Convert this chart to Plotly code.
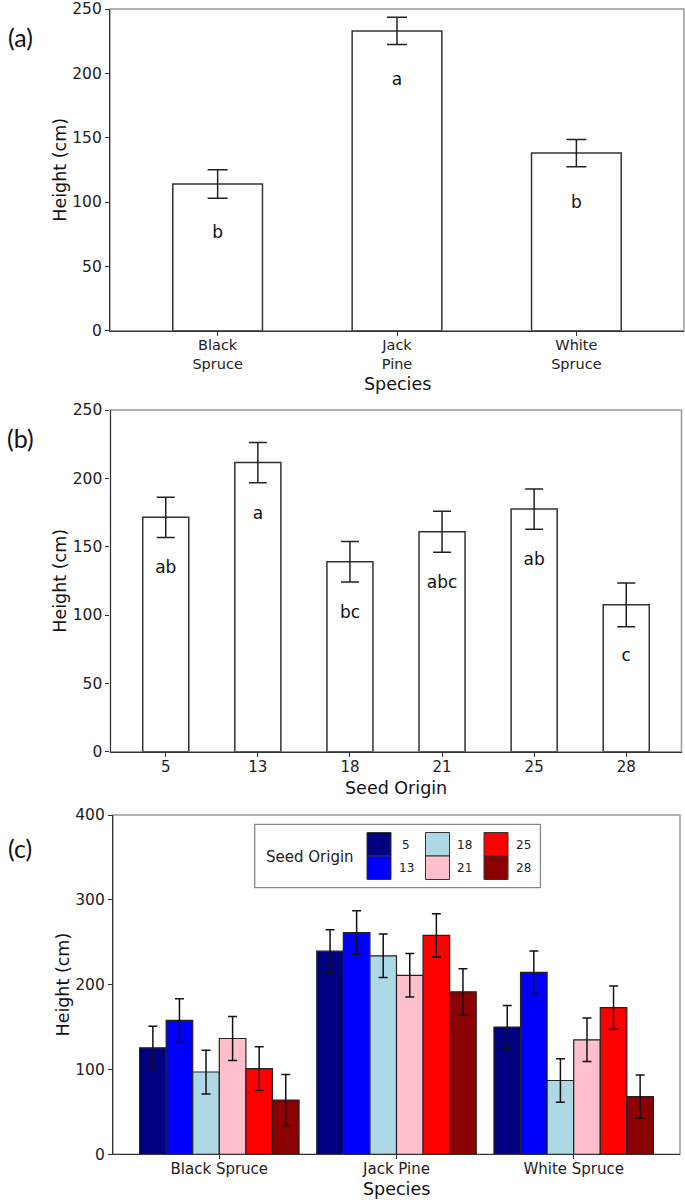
import plotly.graph_objects as go

# ---- data ----
species = ["Black Spruce", "Jack Pine", "White Spruce"]
species_ticks = ["Black<br>Spruce", "Jack<br>Pine", "White<br>Spruce"]

# (a) height by species
a_height = [114, 233, 138]
a_se = [11, 10.5, 10.5]
a_letters = ["b", "a", "b"]

# (b) height by seed origin
origins = ["5", "13", "18", "21", "25", "28"]
b_height = [171.5, 211.5, 139, 161, 177.5, 107.5]
b_se = [14.7, 14.7, 14.8, 15, 14.7, 16]
b_letters = ["ab", "a", "bc", "abc", "ab", "c"]

# (c) species x seed origin, one list per origin (Black Spruce, Jack Pine, White Spruce)
c_height = [
    [125.5, 239.5, 150],
    [158, 261.5, 214.5],
    [97, 234, 87],
    [136.5, 211, 135],
    [101, 258, 173],
    [64, 191.5, 68],
]
c_se = [
    [25.5, 25.3, 25.3],
    [25.3, 25.7, 25.3],
    [25.8, 25.7, 25.6],
    [25.9, 25.7, 25.7],
    [25.7, 25.5, 25.5],
    [30.2, 27.2, 25.5],
]
origin_colors = ["#000080", "#0000FF", "#ADD8E6", "#FFC0CB", "#FF0000", "#8B0000"]

W, H = 685, 1200
FONT = "DejaVu Sans"


def fx(px):
    return px / W


def fy(py):
    return 1 - py / H


fig = go.Figure()

# (a)
fig.add_trace(go.Bar(
    x=species, y=a_height, width=0.5, xaxis="x", yaxis="y",
    marker=dict(color="white", line=dict(color="#333", width=1.5)),
    error_y=dict(type="data", array=a_se, color="#222", thickness=1.5, width=10),
    showlegend=False,
))
fig.add_trace(go.Scatter(
    x=species, y=[h - 39 for h in a_height], text=a_letters, mode="text",
    textfont=dict(family=FONT, size=17, color="#111"), xaxis="x", yaxis="y",
    showlegend=False,
))

# (b)
fig.add_trace(go.Bar(
    x=origins, y=b_height, width=0.5, xaxis="x2", yaxis="y2",
    marker=dict(color="white", line=dict(color="#333", width=1.5)),
    error_y=dict(type="data", array=b_se, color="#222", thickness=1.5, width=9),
    showlegend=False,
))
fig.add_trace(go.Scatter(
    x=origins, y=[h - 38 for h in b_height], text=b_letters, mode="text",
    textfont=dict(family=FONT, size=17, color="#111"), xaxis="x2", yaxis="y2",
    showlegend=False,
))

# (c)
for origin, heights, errs, col in zip(origins, c_height, c_se, origin_colors):
    fig.add_trace(go.Bar(
        x=species, y=heights, name=origin, xaxis="x3", yaxis="y3",
        marker=dict(color=col, line=dict(color="#222", width=1.2)),
        error_y=dict(type="data", array=errs, color="#111", thickness=1.5, width=4.5),
        showlegend=False,
    ))

axis_style = dict(
    showline=True, linecolor="#333", linewidth=1.3,
    ticks="outside", ticklen=4, tickwidth=1.2, tickcolor="#333",
    showgrid=False, zeroline=False, automargin=False, ticklabeloverflow="allow",
    tickfont=dict(family=FONT, size=15.5, color="#222"),
)
x_style = dict(axis_style, ticklabelstandoff=-3,
               tickfont=dict(family=FONT, size=15, color="#222"))
ytitle_font = dict(family=FONT, size=17.5, color="#111")

fig.update_layout(
    width=W, height=H,
    margin=dict(l=0, r=0, t=0, b=0),
    paper_bgcolor="white", plot_bgcolor="white",
    barmode="group", bargap=0.1, bargroupgap=0,
    xaxis=dict(x_style, domain=[fx(110), fx(684)], anchor="y", type="category",
               range=[-0.6, 2.6], tickvals=species, ticktext=species_ticks,
               tickfont=dict(family=FONT, size=14.5, color="#222")),
    yaxis=dict(axis_style, domain=[fy(330.7), fy(9)], anchor="x", range=[0, 250], dtick=50,
               title=dict(text="Height (cm)", font=ytitle_font, standoff=1)),
    xaxis2=dict(x_style, domain=[fx(110.5), fx(681.5)], anchor="y2", type="category",
                range=[-0.6, 5.6]),
    yaxis2=dict(axis_style, domain=[fy(751.7), fy(410)], anchor="x2", range=[0, 250], dtick=50,
                title=dict(text="Height (cm)", font=ytitle_font, standoff=1)),
    xaxis3=dict(x_style, domain=[fx(113), fx(680)], anchor="y3", type="category",
                range=[-0.6, 2.6]),
    yaxis3=dict(axis_style, domain=[fy(1154.3), fy(815)], anchor="x3", range=[0, 400], dtick=100,
                title=dict(text="Height (cm)", font=ytitle_font, standoff=1)),
)

# light panel borders (top/right look grey in the original)
for xr, yr in [("x", "y"), ("x2", "y2"), ("x3", "y3")]:
    fig.add_shape(type="rect", xref=f"{xr} domain", yref=f"{yr} domain",
                  x0=0, x1=1, y0=0, y1=1, line=dict(color="#999", width=1.5), layer="below")

# x-axis titles, placed under the tick labels
for xr, title, ypx in [("x", "Species", 384), ("x2", "Seed Origin", 788), ("x3", "Species", 1189)]:
    fig.add_annotation(text=title, x=0.5, y=fy(ypx), xref=f"{xr} domain", yref="paper",
                       xanchor="center", yanchor="middle", showarrow=False,
                       font=dict(family=FONT, size=17.5, color="#111"))

# panel tags
for tag, ypx in [("(a)", 37), ("(b)", 438), ("(c)", 848)]:
    fig.add_annotation(text=tag, x=fx(20), y=fy(ypx), xref="paper", yref="paper",
                       xanchor="center", yanchor="middle", showarrow=False,
                       font=dict(family="Lato", size=25, color="#111"))

# legend box for (c): "Seed Origin" with 3 columns x 2 rows of swatches
fig.add_shape(type="rect", xref="paper", yref="paper",
              x0=fx(254.7), x1=fx(540.4), y0=fy(887.7), y1=fy(824.3),
              line=dict(color="#888", width=1.3), fillcolor="white", layer="above")
fig.add_annotation(text="Seed Origin", x=fx(310), y=fy(857), xref="paper", yref="paper",
                   xanchor="center", yanchor="middle", showarrow=False,
                   font=dict(family=FONT, size=15, color="#222"))
for i, (origin, col) in enumerate(zip(origins, origin_colors)):
    c, r = divmod(i, 2)
    x0 = 367 + c * 58.5
    y0 = 832.5 + r * 23.5
    fig.add_shape(type="rect", xref="paper", yref="paper",
                  x0=fx(x0), x1=fx(x0 + 24), y0=fy(y0 + 23.5), y1=fy(y0),
                  fillcolor=col, line=dict(color="#333", width=1), layer="above")
    fig.add_annotation(text=origin, x=fx(x0 + 39), y=fy(y0 + 12), xref="paper", yref="paper",
                       xanchor="center", yanchor="middle", showarrow=False,
                       font=dict(family=FONT, size=12, color="#222"))

# drop the browser's default 8px body margin so the figure sits at the page origin
fig.write_html("out.html", config={"displayModeBar": False},
               post_script="document.body.style.margin='0';")
